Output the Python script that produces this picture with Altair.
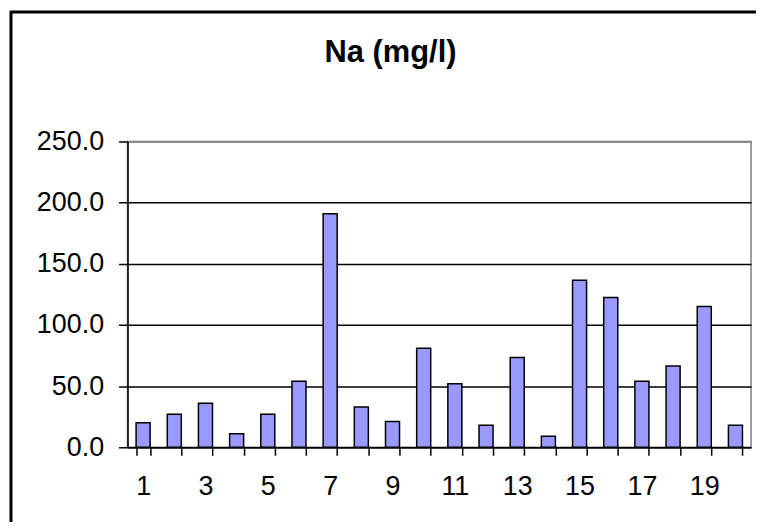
import altair as alt
import pandas as pd

samples = list(range(1, 21))
na_values = [20, 27, 36, 11, 27, 54, 191, 33, 21, 81, 52, 18, 73.5, 9, 136.5, 122.5, 54, 66.5, 115, 18]
y_ticks = [0, 50, 100, 150, 200, 250]

df = pd.DataFrame({"sample": samples, "na": na_values})
one = pd.DataFrame({"k": [0]})

FONT = "Liberation Sans"

bars = alt.Chart(df).mark_bar(
    fill="#9999FF", stroke="black", strokeWidth=1.5
).encode(
    x=alt.X(
        "sample:O",
        title=None,
        scale=alt.Scale(paddingInner=0.55, paddingOuter=0.275),
        axis=alt.Axis(
            labelAngle=0,
            labelExpr="datum.value % 2 == 1 ? datum.label : ''",
            tickBand="extent",
            tickSize=8,
            tickColor="black",
            tickWidth=1.5,
            domainColor="black",
            domainWidth=1.5,
            labelFont=FONT,
            labelFontSize=27,
            labelColor="black",
            labelPadding=18,
            grid=False,
        ),
    ),
    y=alt.Y(
        "na:Q",
        title=None,
        scale=alt.Scale(domain=[0, 250], nice=False),
        axis=alt.Axis(
            values=y_ticks,
            format=".1f",
            tickSize=9,
            tickColor="black",
            tickWidth=1.5,
            domainColor="black",
            domainWidth=1.5,
            labelFont=FONT,
            labelFontSize=27,
            labelColor="black",
            labelPadding=15,
            grid=True,
            gridColor={"condition": {"test": "datum.value === 250", "value": "#808080"}, "value": "black"},
            gridWidth=1.3,
        ),
    ),
)

left_border = alt.Chart(one).mark_rule(color="black", strokeWidth=3).encode(
    x=alt.value(-117), y=alt.value(-131), y2=alt.value(382)
)
top_border = alt.Chart(one).mark_rule(color="black", strokeWidth=3).encode(
    x=alt.value(-118), x2=alt.value(631), y=alt.value(-130)
)

chart = alt.layer(left_border, top_border, bars).properties(
    width=626,
    height=307,
    padding=0,
    background="white",
    title=alt.TitleParams(
        "Na (mg/l)",
        font=FONT,
        fontSize=31,
        fontWeight="bold",
        color="black",
        anchor="middle",
        frame="group",
        dx=-49,
        offset=-60,
    ),
).configure_view(
    stroke="#808080", strokeWidth=1.5
)

chart.save("out.html", embed_options={"renderer": "svg", "actions": False})
